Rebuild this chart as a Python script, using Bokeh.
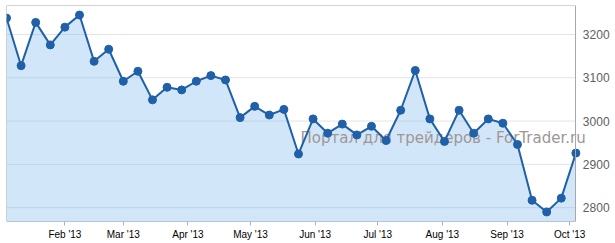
from datetime import datetime
import numpy as np
from bokeh.plotting import figure
from bokeh.core.properties import value
from bokeh.models import (Range1d, LinearAxis, DatetimeAxis, FixedTicker, MonthsTicker,
                          DatetimeTickFormatter, ColumnDataSource)
from bokeh.embed import file_html
from bokeh.resources import INLINE

dates = ["2013-01-04", "2013-01-11", "2013-01-18", "2013-01-25",
         "2013-02-01", "2013-02-08", "2013-02-15", "2013-02-22",
         "2013-03-01", "2013-03-08", "2013-03-15", "2013-03-22", "2013-03-29",
         "2013-04-05", "2013-04-12", "2013-04-19", "2013-04-26",
         "2013-05-03", "2013-05-10", "2013-05-17", "2013-05-24", "2013-05-31",
         "2013-06-07", "2013-06-14", "2013-06-21", "2013-06-28",
         "2013-07-05", "2013-07-12", "2013-07-19", "2013-07-26",
         "2013-08-02", "2013-08-09", "2013-08-16", "2013-08-23", "2013-08-30",
         "2013-09-06", "2013-09-13", "2013-09-20", "2013-09-27",
         "2013-10-04"]
values = [3238, 3128, 3228, 3176, 3217, 3245, 3138, 3166,
          3092, 3115, 3049, 3078, 3072,
          3092, 3105, 3095, 3008,
          3034, 3014, 3027, 2924, 3005,
          2972, 2993, 2968, 2988,
          2955, 3025, 3117, 3005,
          2953, 3025, 2972, 3005, 2995,
          2946, 2817, 2790, 2822,
          2926]
y_ticks = [2800, 2900, 3000, 3100, 3200]
watermark = "Портал для трейдеров - ForTrader.ru"

Y_MIN, Y_MAX = 2768, 3267
BORDER = "#a8a8a8"

x = [datetime.strptime(d, "%Y-%m-%d") for d in dates]
x_ms = [int(np.datetime64(d, "ms").astype("int64")) for d in dates]
x_first, x_last = x_ms[0], x_ms[-1]
# frame continues 19 days past the last point so the watermark is not cut off
x_end = x_last + 19 * 24 * 3600 * 1000

src = ColumnDataSource(dict(x=x, y=values, base=[Y_MIN] * len(values)))
grid_src = ColumnDataSource(dict(y=y_ticks, x0=[x_first] * len(y_ticks), x1=[x_last] * len(y_ticks)))

p = figure(width=615, height=243, output_backend="svg", toolbar_location=None,
           x_axis_type=None, y_axis_location=None,
           x_range=Range1d(x_first, x_end), y_range=Range1d(Y_MIN, Y_MAX),
           min_border_left=6, min_border_top=5, min_border_right=0, min_border_bottom=22)
p.outline_line_color = None
p.background_fill_color = "white"
p.border_fill_color = "white"
p.xgrid.visible = False
p.ygrid.visible = False

# right value axis, pinned at the last date
yax = LinearAxis(ticker=FixedTicker(ticks=y_ticks), fixed_location=x_last)
yax.axis_line_color = BORDER
yax.major_tick_line_color = None
yax.minor_tick_line_color = None
yax.major_tick_out = 0
yax.major_tick_in = 0
yax.major_label_standoff = 7
yax.major_label_text_font = "Liberation Sans"
yax.major_label_text_font_size = "12px"
yax.major_label_text_color = "#606060"
p.add_layout(yax, "right")

# left border
lax = LinearAxis(ticker=FixedTicker(ticks=[]), fixed_location=x_first)
lax.axis_line_color = BORDER
lax.major_tick_line_color = None
lax.minor_tick_line_color = None
lax.major_label_text_font_size = "0px"
p.add_layout(lax, "left")

# top border
tax = LinearAxis(ticker=FixedTicker(ticks=[]), fixed_location=Y_MAX, bounds=(x_first, x_last))
tax.axis_line_color = BORDER
tax.major_tick_line_color = None
tax.minor_tick_line_color = None
tax.major_label_text_font_size = "0px"
p.add_layout(tax, "above")

xax = DatetimeAxis(ticker=MonthsTicker(months=list(range(12))),
                   formatter=DatetimeTickFormatter(months="%b '%y", days="%b '%y"),
                   bounds=(x_first, x_last))
xax.axis_line_color = "#b8c4d0"
xax.major_tick_line_color = "#b0b0b0"
xax.major_tick_out = 4
xax.major_tick_in = 0
xax.minor_tick_line_color = None
xax.major_label_standoff = 3
xax.major_label_text_font = "Liberation Sans"
xax.major_label_text_font_size = "10px"
xax.major_label_text_color = "#000000"
p.add_layout(xax, "below")

p.segment(x0="x0", x1="x1", y0="y", y1="y", source=grid_src, line_color="#e4e4e4", line_width=1)
p.varea(x="x", y1="base", y2="y", source=src, fill_color="#7cb5ec", fill_alpha=0.34)
p.text(x=[datetime(2013, 5, 25)], y=[2961], text=[watermark],
       text_font=value("DejaVu Sans"), text_font_size="15px",
       text_color="#a09696", text_baseline="alphabetic", text_align="left")
p.line(x="x", y="y", source=src, line_color="#1f60a8", line_width=2)
p.scatter(x="x", y="y", source=src, size=8, fill_color="#1f60a8", line_color="#1f60a8")

open("out.html", "w").write(file_html(p, INLINE))
